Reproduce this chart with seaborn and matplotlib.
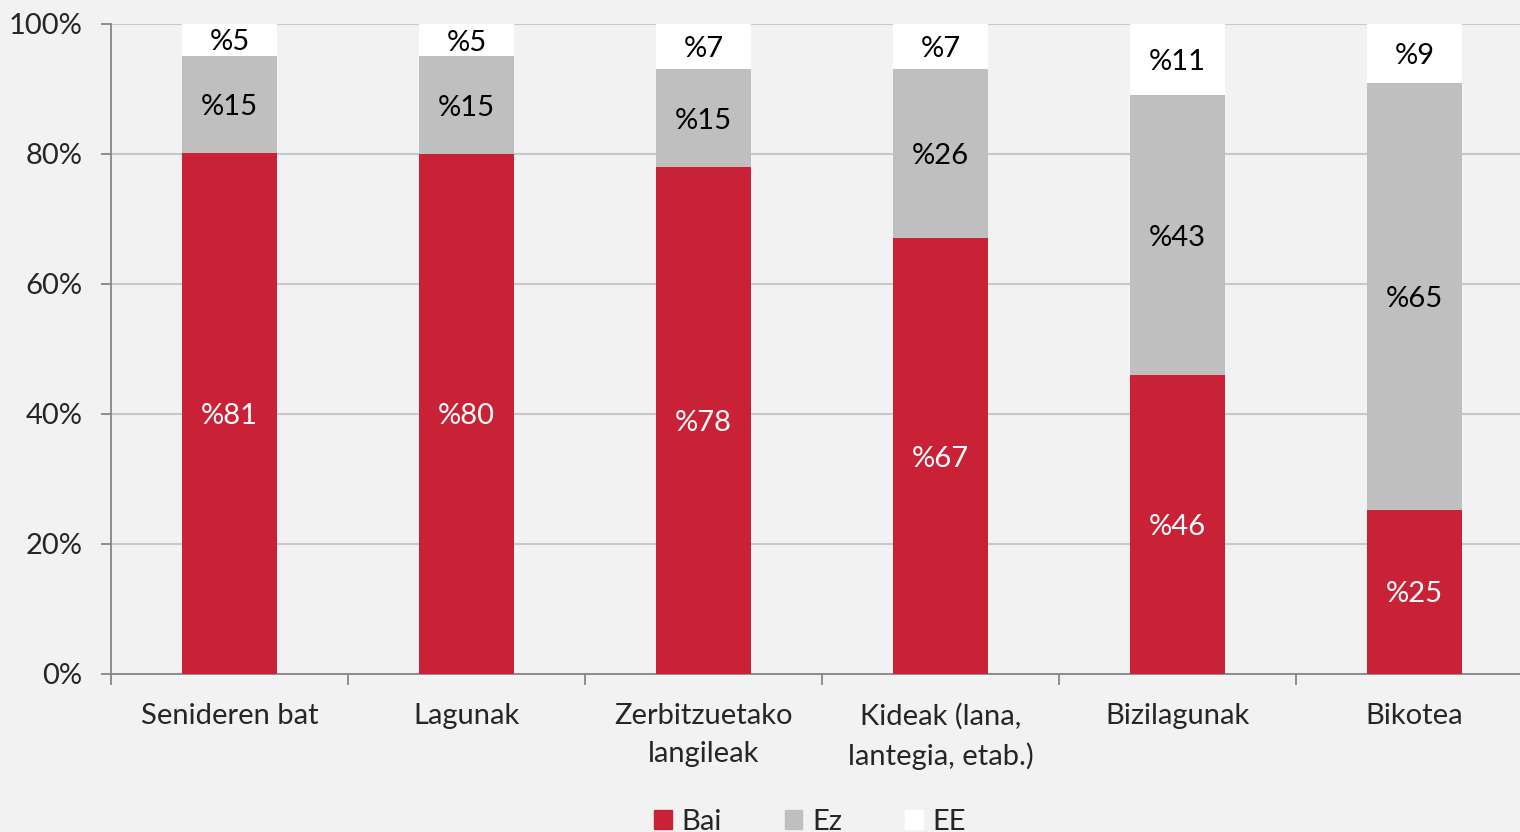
import pandas as pd
import numpy as np
import matplotlib
matplotlib.use('Agg')
import matplotlib.pyplot as plt
import seaborn as sns
from matplotlib.patches import Patch

# Data
categories = ['Senideren bat', 'Lagunak', 'Zerbitzuetako\nlangileak',
              'Kideak (lana,\nlantegia, etab.)', 'Bizilagunak', 'Bikotea']
bai = [81, 80, 78, 67, 46, 25]
ez = [15, 15, 15, 26, 43, 65]
ee = [5, 5, 7, 7, 11, 9]

RED = '#C92237'
GRAY = '#BFBFBF'
WHITE = '#FFFFFF'
BG = '#F2F2F2'
FS = 21

sns.set_theme(style='white')
plt.rcParams['font.family'] = ['Lato', 'DejaVu Sans']

df = pd.DataFrame({'cat': categories, 'Bai': bai, 'Ez': ez, 'EE': ee})
total = df['Bai'] + df['Ez'] + df['EE']
# share of 100% as in the stacked chart
df['bai_p'] = df['Bai'] / total * 100
df['ez_p'] = df['Ez'] / total * 100
df['ee_p'] = df['EE'] / total * 100
df['top_ez'] = df['bai_p'] + df['ez_p']
df['top_ee'] = df['top_ez'] + df['ee_p']

fig = plt.figure(figsize=(15.2, 8.32), dpi=100, facecolor=BG)
ax = fig.add_axes([0.073, 0.19, 0.9355, 0.7813])
ax.set_facecolor(BG)

# layered bars: full stack first, then lower parts on top
sns.barplot(data=df, x='cat', y='top_ee', color=WHITE, width=0.4, saturation=1, ax=ax, zorder=3)
sns.barplot(data=df, x='cat', y='top_ez', color=GRAY, width=0.4, saturation=1, ax=ax, zorder=3)
sns.barplot(data=df, x='cat', y='bai_p', color=RED, width=0.4, saturation=1, ax=ax, zorder=3)
for p in ax.patches:
    p.set_linewidth(0)

# segment labels
for i, row in df.iterrows():
    ax.text(i, row['bai_p'] / 2, f"%{row['Bai']}", ha='center', va='center_baseline',
            color='white', fontsize=FS, zorder=5)
    ax.text(i, row['bai_p'] + row['ez_p'] / 2, f"%{row['Ez']}", ha='center', va='center_baseline',
            color='black', fontsize=FS, zorder=5)
    ax.text(i, row['top_ez'] + row['ee_p'] / 2, f"%{row['EE']}", ha='center', va='center_baseline',
            color='black', fontsize=FS, zorder=5)

ax.set_xlim(-0.5, 5.5)
ax.set_ylim(0, 100)
ax.set_yticks(range(0, 101, 20))
ax.set_yticklabels([f'{v}%' for v in range(0, 101, 20)], fontsize=FS)
ax.set_xticks(range(6))
ax.set_xticklabels(categories, fontsize=FS, linespacing=1.55)
ax.set_xticks(np.arange(-0.5, 6, 1), minor=True)
ax.tick_params(axis='x', which='major', length=0, pad=21)
ax.tick_params(axis='x', which='minor', length=8, width=1.3, color='#868686', direction='out', bottom=True)
ax.tick_params(axis='y', length=7.2, width=1.3, color='#868686', direction='out', left=True, pad=13.5)
ax.set_xlabel('')
ax.set_ylabel('')
ax.grid(axis='y', color='#C8C8C8', linewidth=1.5, zorder=0)
ax.set_axisbelow(True)

for s in ['top', 'right']:
    ax.spines[s].set_visible(False)
for s in ['left', 'bottom']:
    ax.spines[s].set_color('#868686')
    ax.spines[s].set_linewidth(1.3)

handles = [Patch(color=RED, label='Bai'), Patch(color=GRAY, label='Ez'), Patch(color=WHITE, label='EE')]
fig.legend(handles=handles, loc='center', bbox_to_anchor=(0.533, 0.012), ncol=3, frameon=False,
           fontsize=FS, handlelength=0.6, handleheight=0.6, handletextpad=0.35, columnspacing=2.15)

fig.savefig('out.png', dpi=100, facecolor=BG)
